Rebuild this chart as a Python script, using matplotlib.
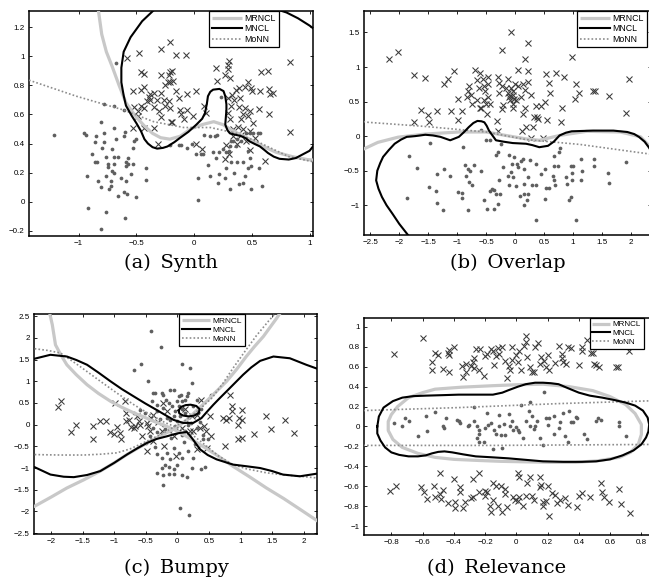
import numpy as np
import matplotlib
matplotlib.use("Agg")
import matplotlib.pyplot as plt

plt.rcParams['font.family'] = ['Liberation Sans', 'DejaVu Sans']

# ---------------- (a) Synth ----------------
synth_cross = [
    (-0.58, 0.99), (-0.48, 1.02), (-0.21, 1.10), (-0.29, 1.05), (-0.16, 1.01), (-0.07, 1.01),
    (-0.46, 0.89), (-0.43, 0.88), (-0.29, 0.87), (-0.21, 0.89), (-0.22, 0.87), (-0.19, 0.90),
    (-0.23, 0.82), (-0.21, 0.82), (-0.25, 0.80), (-0.18, 0.83), (-0.53, 0.76), (-0.43, 0.79),
    (-0.46, 0.77), (-0.38, 0.74), (-0.35, 0.75), (-0.29, 0.75), (-0.39, 0.72), (-0.38, 0.70),
    (-0.41, 0.69), (-0.46, 0.66), (-0.43, 0.645), (-0.52, 0.65), (-0.49, 0.62), (-0.35, 0.65),
    (-0.32, 0.70), (-0.26, 0.70), (-0.25, 0.66), (-0.21, 0.645), (-0.22, 0.69), (-0.13, 0.71),
    (-0.06, 0.74), (0.02, 0.76), (-0.29, 0.58), (-0.19, 0.55), (-0.11, 0.60), (-0.12, 0.63),
    (-0.06, 0.63), (-0.09, 0.565), (-0.53, 0.51), (-0.43, 0.51), (-0.35, 0.51), (-0.49, 0.59),
    (-0.01, 0.59), (0.10, 0.61), (0.09, 0.66), (0.30, 0.97), (0.29, 0.94), (0.29, 0.91),
    (0.19, 0.92), (0.31, 0.85), (0.27, 0.87), (0.58, 0.89), (0.64, 0.90), (0.83, 0.96),
    (0.47, 0.82), (0.39, 0.78), (0.44, 0.79), (0.49, 0.78), (0.36, 0.77), (0.33, 0.73),
    (0.35, 0.70), (0.50, 0.76), (0.57, 0.76), (0.65, 0.775), (0.66, 0.74), (0.68, 0.75),
    (0.29, 0.71), (0.32, 0.66), (0.39, 0.65), (0.44, 0.645), (0.48, 0.62), (0.56, 0.64),
    (0.65, 0.60), (0.42, 0.60), (0.47, 0.59), (0.31, 0.565), (0.41, 0.565), (0.51, 0.54),
    (0.34, 0.50), (0.38, 0.515), (0.42, 0.50), (0.48, 0.485), (0.41, 0.46), (0.29, 0.61),
    (0.83, 0.48), (0.28, 0.39), (0.48, 0.355), (0.34, 0.45), (0.02, 0.40), (0.07, 0.36),
    (-0.31, 0.40), (0.27, 0.295), (0.61, 0.28), (0.30, 0.33), (-0.20, 0.55), (0.53, 0.44),
    (0.45, 0.42), (0.37, 0.40), (-0.30, 0.62), (-0.16, 0.76), (0.20, 0.83), (0.40, 0.71),
]
synth_dot = [
    (-1.21, 0.46), (-0.95, 0.47), (-0.94, 0.46), (-0.85, 0.45), (-0.78, 0.47), (-0.69, 0.51),
    (-0.60, 0.48), (-0.81, 0.55), (-0.86, 0.41), (-0.78, 0.41), (-0.68, 0.43), (-0.61, 0.45),
    (-0.71, 0.36), (-0.80, 0.37), (-0.86, 0.27), (-0.84, 0.27), (-0.76, 0.31), (-0.69, 0.31),
    (-0.66, 0.31), (-0.57, 0.30), (-0.75, 0.26), (-0.75, 0.24), (-0.69, 0.26), (-0.59, 0.27),
    (-0.57, 0.26), (-0.53, 0.26), (-0.59, 0.245), (-0.93, 0.18), (-0.83, 0.14), (-0.76, 0.18),
    (-0.71, 0.21), (-0.69, 0.20), (-0.72, 0.14), (-0.63, 0.16), (-0.55, 0.19), (-0.59, 0.14),
    (-0.42, 0.15), (-0.42, 0.23), (-0.81, 0.10), (-0.74, 0.09), (-0.72, 0.11), (-0.66, 0.04),
    (-0.61, 0.07), (-0.58, 0.055), (-0.50, 0.035), (-0.92, -0.04), (-0.76, -0.07), (-0.60, -0.11),
    (-0.81, -0.19), (-0.88, 0.33), (-0.78, 0.67), (-0.69, 0.66), (-0.61, 0.63), (-0.68, 0.95),
    (-0.52, 0.42), (-0.50, 0.43), (-0.53, 0.37),
    (0.03, 0.165), (0.14, 0.18), (0.22, 0.19), (0.21, 0.13), (0.31, 0.09), (0.27, 0.165),
    (0.28, 0.23), (0.37, 0.27), (0.42, 0.27), (0.32, 0.27), (0.39, 0.12), (0.42, 0.13),
    (0.49, 0.085), (0.49, 0.245), (0.47, 0.23), (0.56, 0.23), (0.59, 0.11), (0.03, 0.015),
    (-0.06, 0.37), (-0.11, 0.39), (-0.13, 0.39), (-0.02, 0.40), (0.02, 0.325), (0.06, 0.325),
    (0.08, 0.325), (0.16, 0.345), (0.22, 0.34), (0.19, 0.30), (0.28, 0.34), (0.30, 0.35),
    (0.31, 0.38), (0.09, 0.46), (0.14, 0.45), (0.18, 0.455), (0.20, 0.46), (0.32, 0.42),
    (0.37, 0.43), (0.36, 0.38), (0.42, 0.45), (0.41, 0.42), (0.45, 0.47), (0.48, 0.47),
    (0.51, 0.47), (0.55, 0.47), (0.57, 0.47), (0.47, 0.35), (0.48, 0.30), (-0.21, 0.39),
    (0.23, 0.72), (0.34, 0.42), (0.25, 0.36), (0.12, 0.25), (0.35, 0.20), (0.44, 0.18),
]
synth_mrncl = [
    (-0.83, 1.32), (-0.80, 1.15), (-0.76, 1.03), (-0.71, 0.93), (-0.65, 0.80), (-0.59, 0.68),
    (-0.51, 0.59), (-0.43, 0.52), (-0.36, 0.47), (-0.29, 0.44), (-0.21, 0.43), (-0.12, 0.45),
    (-0.03, 0.50), (0.07, 0.53), (0.17, 0.55), (0.25, 0.53), (0.31, 0.50), (0.40, 0.46),
    (0.48, 0.43), (0.60, 0.38), (0.71, 0.34), (0.85, 0.31), (0.98, 0.29), (1.05, 0.285),
]
synth_mncl = [
    (-0.33, 1.33), (-0.45, 1.24), (-0.55, 1.13), (-0.61, 1.03), (-0.63, 0.92), (-0.63, 0.82),
    (-0.61, 0.73), (-0.59, 0.66), (-0.54, 0.59), (-0.50, 0.54), (-0.46, 0.485), (-0.43, 0.43),
    (-0.40, 0.40), (-0.36, 0.375), (-0.32, 0.365), (-0.27, 0.37), (-0.23, 0.38), (-0.17, 0.41),
    (-0.12, 0.44), (-0.05, 0.48), (0.02, 0.53), (0.07, 0.57), (0.095, 0.61), (0.11, 0.67),
    (0.12, 0.725), (0.14, 0.755), (0.165, 0.77), (0.22, 0.775), (0.255, 0.76), (0.27, 0.725),
    (0.28, 0.67), (0.28, 0.63), (0.275, 0.58), (0.27, 0.53), (0.29, 0.49), (0.31, 0.47),
    (0.36, 0.46), (0.41, 0.45), (0.45, 0.435), (0.48, 0.415), (0.53, 0.395), (0.57, 0.38),
    (0.61, 0.355), (0.64, 0.335), (0.69, 0.31), (0.74, 0.295), (0.82, 0.29), (0.88, 0.30),
    (0.94, 0.325), (1.0, 0.35), (1.1, 0.45), (1.2, 0.8), (1.1, 1.15), (1.0, 1.21),
    (0.90, 1.26), (0.80, 1.30), (0.68, 1.33),
]
synth_monn = [
    (-1.43, 0.835), (-1.02, 0.725), (-0.61, 0.63), (-0.35, 0.55), (-0.09, 0.51), (0.14, 0.51),
    (0.37, 0.47), (0.57, 0.405), (0.82, 0.31), (1.03, 0.275),
]

# ---------------- (b) Overlap ----------------
overlap_cross = [
    (-2.17, 1.12), (-2.02, 1.22), (-1.74, 0.89), (-1.56, 0.84), (-1.63, 0.38), (-1.51, 0.31),
    (-1.74, 0.20), (-1.48, 0.20), (-1.34, 0.36), (-1.22, 0.75), (-1.16, 0.83), (-1.06, 0.94),
    (-0.99, 0.53), (-1.10, 0.36), (-0.92, 0.37), (-0.99, 0.24), (-0.80, 0.73), (-0.81, 0.65),
    (-0.83, 0.57), (-0.76, 0.60), (-0.70, 0.95), (-0.61, 0.91), (-0.65, 0.81), (-0.56, 0.82),
    (-0.53, 0.73), (-0.52, 0.65), (-0.63, 0.69), (-0.75, 0.47), (-0.65, 0.52), (-0.59, 0.40),
    (-0.53, 0.52), (-0.47, 0.86), (-0.47, 0.76), (-0.47, 0.57), (-0.51, 0.47), (-0.44, 0.46),
    (-0.48, 0.32), (-0.30, 0.86), (-0.27, 0.77), (-0.22, 0.72), (-0.27, 0.62), (-0.22, 1.24),
    (-0.07, 1.51), (0.22, 1.35), (0.17, 1.11), (-0.12, 0.83), (-0.16, 0.70), (-0.13, 0.62),
    (-0.07, 0.69), (-0.04, 0.60), (-0.11, 0.57), (-0.08, 0.52), (-0.01, 0.54), (-0.04, 0.47),
    (0.02, 0.52), (0.0, 0.76), (0.06, 0.73), (0.13, 0.76), (0.22, 0.78), (0.06, 0.95),
    (0.23, 0.94), (-0.22, 0.39), (-0.04, 0.40), (-0.31, 0.22), (-0.30, 0.08), (0.17, 0.67),
    (0.18, 0.40), (0.13, 0.32), (0.28, 0.59), (0.37, 0.44), (0.45, 0.44), (0.51, 0.49),
    (0.54, 0.90), (0.70, 0.91), (0.84, 0.85), (0.59, 0.77), (0.60, 0.62), (0.40, 0.25),
    (0.32, 0.28), (0.31, 0.13), (0.12, 0.07), (0.19, 0.13), (0.28, -0.02), (0.48, -0.02),
    (0.56, 0.23), (0.80, 0.20), (0.81, 0.41), (0.98, 1.14), (1.05, 0.76), (1.03, 0.53),
    (1.11, 0.62), (1.34, 0.65), (1.38, 0.65), (1.63, 0.58), (1.97, 0.82), (1.92, 0.34),
    (0.10, 0.57), (-0.03, 0.66), (-0.09, 0.58), (0.38, 0.27), (-0.60, 0.40), (-0.20, 0.45),
]
overlap_dot = [
    (-1.83, -0.29), (-1.87, -0.89), (-1.70, -0.46), (-1.47, -0.10), (-1.48, -0.73), (-1.37, -0.79),
    (-1.34, -0.97), (-1.25, -1.07), (-1.35, -0.55), (-1.23, -0.47), (-1.13, -0.58), (-0.98, -0.81),
    (-0.92, -0.82), (-0.92, -0.89), (-0.81, -1.07), (-0.87, -0.42), (-0.81, -0.47), (-0.84, -0.57),
    (-0.80, -0.67), (-0.74, -0.71), (-0.71, -0.42), (-0.78, -0.51), (-0.58, -0.50), (-0.90, -0.15),
    (-0.58, 0.09), (-0.51, -0.06), (-0.44, -0.06), (-0.53, -0.93), (-0.49, -1.06), (-0.36, -1.06),
    (-0.44, -0.80), (-0.37, -0.78), (-0.33, -0.83), (-0.26, -0.83), (-0.30, -0.98), (-0.30, -0.23),
    (-0.33, -0.28), (-0.27, -0.63), (-0.20, -0.44), (-0.13, -0.58), (-0.07, -0.52), (-0.04, -0.59),
    (-0.05, -0.40), (-0.11, -0.28), (-0.02, -0.30), (0.03, -0.40), (0.06, -0.44), (0.10, -0.36),
    (0.13, -0.33), (0.16, -0.47), (0.02, -0.72), (0.15, -0.69), (0.22, -0.59), (0.26, -0.34),
    (0.37, -0.41), (0.08, -0.87), (0.16, -0.83), (0.20, -0.92), (0.22, -0.83), (0.29, -0.71),
    (0.16, -1.0), (0.37, -1.21), (0.36, -0.70), (0.51, -0.91), (0.53, -0.75), (0.59, -0.75),
    (0.51, -0.47), (0.66, -0.57), (0.67, -0.64), (0.69, -0.71), (0.67, -0.43), (0.74, -0.43),
    (0.67, -0.29), (0.76, -0.23), (0.77, -0.17), (0.88, -0.59), (0.90, -0.69), (0.96, -0.43),
    (1.0, -0.43), (0.99, -0.54), (0.97, -0.88), (1.05, -1.21), (0.93, -0.92), (1.14, -0.33),
    (1.15, -0.51), (0.98, -0.63), (1.14, -0.64), (1.37, -0.33), (1.37, -0.43), (1.60, -0.53),
    (1.63, -0.68), (1.92, -0.37), (-0.24, -0.11), (-0.40, -0.76), (-0.10, -0.70), (0.45, -0.55),
]
overlap_mrncl = [
    (-2.65, -0.20), (-2.60, -0.18), (-2.37, -0.09), (-2.02, -0.015), (-1.55, 0.03), (-0.97, 0.06),
    (-0.50, 0.06), (-0.16, 0.01), (0.19, -0.04), (0.42, -0.06), (0.77, 0.01), (1.24, 0.07),
    (1.82, 0.06), (2.17, -0.01), (2.34, -0.16), (2.40, -0.25),
]
overlap_mncl = [
    (-1.78, -1.50), (-1.85, -1.43), (-2.00, -1.27), (-2.12, -1.12), (-2.22, -1.00), (-2.30, -0.88),
    (-2.36, -0.76), (-2.40, -0.64), (-2.38, -0.50), (-2.33, -0.39), (-2.28, -0.30), (-2.18, -0.20),
    (-2.08, -0.11), (-1.97, -0.05), (-1.87, -0.01), (-1.73, 0.0), (-1.55, 0.02), (-1.42, 0.01),
    (-1.29, -0.01), (-1.12, -0.06), (-0.97, -0.01), (-0.88, 0.06), (-0.80, 0.13), (-0.72, 0.19),
    (-0.65, 0.22), (-0.58, 0.215), (-0.53, 0.20), (-0.49, 0.15), (-0.45, 0.08), (-0.39, 0.01),
    (-0.33, -0.06), (-0.20, -0.08), (-0.04, -0.10), (0.19, -0.11), (0.30, -0.13), (0.42, -0.16),
    (0.57, -0.14), (0.67, -0.08), (0.77, 0.01), (0.88, 0.05), (0.98, 0.07), (1.35, 0.08),
    (1.70, 0.08), (1.94, 0.06), (2.06, 0.03), (2.14, -0.01), (2.24, -0.08), (2.31, -0.16),
    (2.40, -0.28),
]
overlap_monn = [
    (-2.62, 0.21), (-2.54, 0.20), (-1.55, 0.14), (-0.50, 0.06), (0.19, -0.05), (1.12, -0.12),
    (2.34, -0.26),
]

# ---------------- (c) Bumpy ----------------
bumpy_cross = [
    (-1.85, 0.55), (-1.89, 0.40), (-1.60, 0.0), (-1.69, -0.17), (-1.33, -0.02), (-1.33, -0.33),
    (-1.22, 0.08), (-1.13, 0.08), (-1.06, -0.17), (-1.01, -0.21), (-0.99, 0.50), (-0.95, -0.06),
    (-0.91, -0.19), (-0.90, -0.32), (-0.83, 0.54), (-0.81, 0.27), (-0.81, 0.09), (-0.74, -0.06),
    (-0.67, -0.04), (-0.64, 0.19), (-0.60, 0.08), (-0.56, -0.27), (-0.48, 0.04), (-0.46, -0.04),
    (-0.43, -0.15), (-0.41, 0.15), (-0.38, 0.23), (-0.48, -0.61), (-0.39, -0.37), (-0.25, -0.15),
    (-0.21, -0.50), (-0.22, 0.50), (-0.17, 0.31), (-0.06, -0.27), (-0.02, -0.73), (0.03, -0.15),
    (0.08, -0.08), (0.20, -0.15), (0.23, 0.19), (0.31, 0.23), (0.25, -0.14), (0.36, -0.08),
    (0.38, 0.57), (0.51, 0.19), (0.31, -0.57), (0.42, -0.04), (0.46, -0.15), (0.53, -0.27),
    (0.47, -0.54), (0.84, 0.69), (0.86, 0.42), (0.86, 0.32), (0.72, 0.15), (0.77, 0.11),
    (0.75, -0.50), (0.96, 0.0), (0.98, 0.15), (1.02, 0.11), (1.02, 0.34), (0.96, -0.32),
    (1.02, -0.31), (1.21, -0.21), (1.41, 0.21), (1.48, -0.09), (1.70, 0.11), (1.84, -0.19),
    (0.81, 0.15), (-0.59, 0.0), (-0.76, 0.11), (-0.69, -0.08), (-0.30, 0.05), (0.12, 0.35),
]
bumpy_dot = [
    (-0.41, 2.16), (-0.26, 1.80), (-0.57, 1.40), (0.07, 1.39), (0.20, 1.30), (-0.69, 1.26),
    (-0.46, 1.0), (0.23, 0.96), (-0.38, 0.74), (-0.35, 0.74), (-0.24, 0.74), (-0.12, 0.80),
    (-0.06, 0.80), (-0.22, 0.69), (-0.18, 0.57), (-0.14, 0.50), (-0.09, 0.42), (-0.33, 0.46),
    (-0.32, 0.32), (-0.22, 0.38), (-0.04, 0.31), (0.06, 0.69), (0.12, 0.57), (0.15, 0.65),
    (0.17, 0.73), (0.07, 0.54), (0.03, 0.42), (0.08, 0.37), (0.12, 0.27), (-0.69, 0.27),
    (-0.59, 0.34), (-0.51, 0.27), (-0.17, 0.15), (-0.12, 0.11), (-0.06, 0.19), (-0.01, 0.08),
    (0.04, 0.19), (0.14, 0.08), (0.17, 0.0), (0.22, 0.04), (0.31, 0.57), (0.53, 0.69),
    (0.38, 0.35), (-0.23, 0.0), (-0.19, -0.09), (-0.12, -0.15), (-0.04, -0.04), (0.07, -0.23),
    (0.12, -0.15), (0.31, -0.08), (0.36, 0.06), (0.40, -0.23), (0.41, -0.32), (0.49, -0.32),
    (-0.49, -0.42), (-0.35, -0.52), (-0.32, -0.67), (-0.25, -0.77), (-0.17, -0.65), (-0.12, -0.80),
    (-0.06, -0.54), (0.03, -0.65), (0.08, -0.77), (0.17, -0.61), (0.25, -0.77), (0.23, -1.0),
    (0.37, -1.03), (0.44, -0.97), (-0.24, -1.0), (-0.14, -0.98), (-0.06, -1.03), (-0.20, -0.92),
    (-0.32, -1.11), (-0.22, -1.15), (-0.14, -1.13), (-0.05, -1.13), (-0.22, -1.38), (0.15, -1.20),
    (0.04, -1.93), (0.19, -2.09), (0.07, -1.15), (0.0, -0.92), (-0.44, -0.27), (-0.33, -0.17),
    (-0.38, -0.08), (-0.01, 0.54), (0.03, 0.65), (0.25, 0.42), (0.33, 0.27), (-0.28, 0.12),
    (0.10, -0.40), (-0.10, -0.30), (0.28, -0.45), (-0.40, 0.55),
]
bumpy_mrncl_a = [
    (-2.02, 2.56), (-1.98, 2.30), (-1.93, 1.84), (-1.85, 1.62), (-1.75, 1.38), (-1.60, 1.15),
    (-1.43, 0.92), (-1.25, 0.72), (-1.06, 0.54), (-0.88, 0.40), (-0.69, 0.27), (-0.52, 0.17),
    (-0.38, 0.08), (-0.20, -0.02), (0.0, -0.15), (0.18, -0.30), (0.36, -0.46), (0.62, -0.70),
    (0.88, -0.96), (1.15, -1.21), (1.41, -1.46), (1.68, -1.70), (1.94, -1.95), (2.25, -2.25),
]
bumpy_mrncl_b = [
    (-2.30, -1.90), (-2.26, -1.88), (-2.00, -1.67), (-1.75, -1.46), (-1.48, -1.27), (-1.22, -1.07),
    (-1.00, -0.88), (-0.80, -0.69), (-0.60, -0.52), (-0.43, -0.38), (-0.27, -0.26), (-0.12, -0.15),
    (0.02, -0.03), (0.15, 0.11), (0.30, 0.32), (0.46, 0.54), (0.62, 0.77), (0.78, 1.0),
    (0.94, 1.28), (1.09, 1.57), (1.22, 1.80), (1.36, 2.03), (1.47, 2.25), (1.57, 2.45),
    (1.63, 2.58),
]
bumpy_mncl_upper = [
    (-2.30, 1.50), (-2.26, 1.52), (-2.01, 1.61), (-1.75, 1.57), (-1.60, 1.49), (-1.43, 1.38),
    (-1.25, 1.20), (-1.06, 1.0), (-0.88, 0.82), (-0.69, 0.65), (-0.51, 0.49), (-0.33, 0.34),
    (-0.19, 0.22), (-0.06, 0.11), (0.09, 0.04), (0.25, 0.04), (0.38, 0.15), (0.47, 0.30),
    (0.57, 0.46), (0.67, 0.61), (0.78, 0.77), (0.91, 0.96), (1.04, 1.15), (1.17, 1.32),
    (1.31, 1.47), (1.52, 1.57), (1.78, 1.53), (2.04, 1.38), (2.25, 1.27),
]
bumpy_mncl_lower = [
    (-2.30, -0.96), (-2.26, -0.98), (-2.01, -1.15), (-1.80, -1.20), (-1.64, -1.21), (-1.43, -1.16),
    (-1.22, -1.07), (-1.00, -0.88), (-0.80, -0.69), (-0.64, -0.55), (-0.48, -0.42), (-0.33, -0.33),
    (-0.17, -0.27), (-0.05, -0.22), (0.04, -0.19), (0.15, -0.17), (0.23, -0.31), (0.36, -0.57),
    (0.48, -0.70), (0.62, -0.80), (0.88, -0.92), (1.10, -0.96), (1.31, -1.00), (1.50, -1.07),
    (1.67, -1.15), (1.94, -1.19), (2.25, -1.12),
]
bumpy_mncl_loop = [
    (0.02, 0.33), (0.06, 0.41), (0.13, 0.45), (0.21, 0.46), (0.30, 0.43), (0.35, 0.36),
    (0.34, 0.27), (0.27, 0.21), (0.18, 0.19), (0.09, 0.21), (0.03, 0.26), (0.02, 0.33),
]
bumpy_monn_a = [
    (-2.26, 1.75), (-2.05, 1.71), (-1.85, 1.65), (-1.55, 1.35), (-1.22, 1.0), (-0.95, 0.72),
    (-0.69, 0.46), (-0.45, 0.25), (-0.20, 0.05), (0.05, -0.10), (0.25, -0.25), (0.45, -0.48),
    (0.65, -0.72), (0.88, -0.92), (1.10, -1.02), (1.41, -1.11), (1.70, -1.16), (1.94, -1.19),
    (2.22, -1.23),
]
bumpy_monn_b = [
    (-2.26, -0.69), (-1.85, -0.70), (-1.48, -0.70), (-1.20, -0.68), (-0.96, -0.65), (-0.75, -0.56),
    (-0.54, -0.42), (-0.27, -0.23), (-0.05, -0.05), (0.15, 0.12), (0.35, 0.35), (0.55, 0.62),
    (0.72, 0.95), (0.88, 1.30), (1.05, 1.65), (1.25, 2.05), (1.45, 2.40), (1.55, 2.56),
]

# ---------------- (d) Relevance ----------------
relev_cross = [
    (-0.78, 0.73), (-0.60, 0.89), (-0.54, 0.57), (-0.54, 0.65), (-0.52, 0.74), (-0.50, 0.72),
    (-0.47, 0.58), (-0.44, 0.74), (-0.43, 0.77), (-0.43, 0.72), (-0.43, 0.55), (-0.40, 0.80),
    (-0.35, 0.61), (-0.34, 0.50), (-0.32, 0.63), (-0.32, 0.55), (-0.29, 0.61), (-0.28, 0.65),
    (-0.27, 0.69), (-0.27, 0.59), (-0.24, 0.57), (-0.21, 0.51), (-0.26, 0.78), (-0.23, 0.78),
    (-0.20, 0.71), (-0.19, 0.73), (-0.16, 0.78), (-0.15, 0.76), (-0.14, 0.62), (-0.13, 0.71),
    (-0.12, 0.79), (-0.11, 0.73), (-0.09, 0.80), (-0.07, 0.66), (-0.06, 0.49), (-0.05, 0.61),
    (-0.04, 0.57), (-0.03, 0.80), (-0.03, 0.67), (0.0, 0.72), (0.01, 0.65), (0.02, 0.76),
    (0.03, 0.57), (0.05, 0.81), (0.06, 0.91), (0.06, 0.85), (0.07, 0.70), (0.09, 0.60),
    (0.10, 0.55), (0.11, 0.55), (0.12, 0.80), (0.14, 0.84), (0.15, 0.63), (0.16, 0.70),
    (0.18, 0.66), (0.19, 0.60), (0.20, 0.72), (0.21, 0.57), (0.25, 0.64), (0.27, 0.81),
    (0.29, 0.73), (0.29, 0.69), (0.30, 0.65), (0.32, 0.63), (0.33, 0.80), (0.35, 0.79),
    (0.40, 0.62), (0.42, 0.80), (0.42, 0.76), (0.45, 0.87), (0.48, 0.74), (0.49, 0.74),
    (0.50, 0.63), (0.51, 0.62), (0.53, 0.60), (0.64, 0.60), (0.65, 0.60), (0.72, 0.76),
    (-0.81, -0.645), (-0.77, -0.60), (-0.61, -0.61), (-0.59, -0.66), (-0.57, -0.73), (-0.53, -0.60),
    (-0.52, -0.71), (-0.49, -0.68), (-0.49, -0.47), (-0.48, -0.73), (-0.47, -0.64), (-0.44, -0.77),
    (-0.40, -0.53), (-0.39, -0.82), (-0.39, -0.76), (-0.36, -0.61), (-0.36, -0.66), (-0.34, -0.82),
    (-0.33, -0.76), (-0.28, -0.53), (-0.28, -0.71), (-0.29, -0.72), (-0.24, -0.47), (-0.24, -0.66),
    (-0.20, -0.645), (-0.20, -0.70), (-0.19, -0.66), (-0.17, -0.80), (-0.16, -0.86), (-0.15, -0.74),
    (-0.15, -0.57), (-0.13, -0.60), (-0.12, -0.80), (-0.10, -0.60), (-0.07, -0.68), (-0.07, -0.63),
    (-0.09, -0.86), (-0.06, -0.81), (-0.02, -0.71), (-0.01, -0.74), (0.01, -0.75), (0.01, -0.47),
    (0.02, -0.505), (0.02, -0.71), (0.04, -0.80), (0.06, -0.70), (0.07, -0.57), (0.09, -0.51),
    (0.10, -0.70), (0.11, -0.74), (0.15, -0.51), (0.15, -0.61), (0.16, -0.59), (0.17, -0.76),
    (0.17, -0.80), (0.19, -0.75), (0.20, -0.60), (0.21, -0.90), (0.23, -0.67), (0.25, -0.685),
    (0.26, -0.77), (0.28, -0.74), (0.31, -0.72), (0.33, -0.79), (0.39, -0.81), (0.40, -0.70),
    (0.42, -0.67), (0.47, -0.71), (0.54, -0.57), (0.55, -0.66), (0.56, -0.71), (0.59, -0.76),
    (0.66, -0.63), (0.67, -0.78), (0.73, -0.87),
]
relev_dot = [
    (-0.78, 0.04), (-0.73, 0.0), (-0.71, 0.09), (-0.69, 0.06), (-0.63, -0.10), (-0.58, 0.11),
    (-0.57, -0.05), (-0.52, 0.15), (-0.47, 0.0), (-0.46, -0.02), (-0.45, 0.09), (-0.38, 0.07),
    (-0.37, 0.06), (-0.36, 0.04), (-0.31, 0.0), (-0.30, 0.02), (-0.27, 0.20), (-0.27, 0.06),
    (-0.25, 0.0), (-0.24, -0.04), (-0.24, -0.08), (-0.25, -0.12), (-0.24, -0.16), (-0.21, -0.16),
    (-0.20, -0.02), (-0.19, 0.14), (-0.18, 0.02), (-0.16, 0.04), (-0.15, -0.23), (-0.14, -0.04),
    (-0.13, -0.08), (-0.11, 0.12), (-0.11, 0.01), (-0.10, -0.09), (-0.09, -0.22), (-0.08, 0.03),
    (-0.07, -0.09), (-0.05, 0.13), (-0.04, 0.0), (-0.03, 0.06), (-0.02, -0.04), (0.0, -0.01),
    (0.01, -0.04), (0.02, -0.06), (0.03, 0.22), (0.04, -0.12), (0.06, 0.06), (0.08, 0.16),
    (0.09, 0.25), (0.09, 0.01), (0.10, 0.11), (0.11, -0.03), (0.12, 0.01), (0.13, 0.06),
    (0.15, -0.12), (0.17, -0.19), (0.18, 0.35), (0.19, 0.09), (0.20, 0.02), (0.21, 0.09),
    (0.24, 0.11), (0.24, -0.08), (0.27, -0.02), (0.28, 0.05), (0.30, 0.14), (0.31, -0.10),
    (0.33, -0.16), (0.34, 0.16), (0.35, 0.05), (0.36, 0.05), (0.38, 0.10), (0.43, -0.08),
    (0.45, -0.13), (0.51, 0.06), (0.52, 0.09), (0.54, 0.07), (0.66, 0.05), (0.66, 0.0),
    (0.70, -0.10), (0.39, 0.09),
]
relev_mrncl = [
    (-0.69, 0.29), (-0.60, 0.34), (-0.52, 0.375), (-0.35, 0.395), (-0.15, 0.41), (0.01, 0.42),
    (0.17, 0.425), (0.34, 0.40), (0.49, 0.36), (0.60, 0.30), (0.70, 0.22), (0.76, 0.13),
    (0.80, 0.02), (0.80, -0.08), (0.78, -0.18), (0.73, -0.26), (0.66, -0.31), (0.52, -0.345),
    (0.38, -0.36), (0.22, -0.36), (0.06, -0.355), (-0.10, -0.35), (-0.26, -0.34), (-0.40, -0.33),
    (-0.52, -0.31), (-0.63, -0.27), (-0.73, -0.21), (-0.79, -0.13), (-0.82, -0.04), (-0.82, 0.05),
    (-0.80, 0.12), (-0.76, 0.20), (-0.69, 0.29),
]
relev_mncl = [
    (-0.89, 0.0), (-0.88, 0.10), (-0.85, 0.19), (-0.79, 0.255), (-0.73, 0.29), (-0.66, 0.305),
    (-0.58, 0.31), (-0.47, 0.315), (-0.37, 0.32), (-0.26, 0.32), (-0.15, 0.32), (-0.09, 0.34),
    (-0.05, 0.365), (0.01, 0.40), (0.06, 0.425), (0.12, 0.44), (0.17, 0.44), (0.22, 0.435),
    (0.27, 0.425), (0.33, 0.385), (0.40, 0.34), (0.47, 0.31), (0.55, 0.29), (0.63, 0.265),
    (0.70, 0.24), (0.76, 0.21), (0.81, 0.16), (0.84, 0.09), (0.85, 0.02), (0.845, -0.05),
    (0.83, -0.11), (0.80, -0.18), (0.75, -0.24), (0.68, -0.29), (0.60, -0.33), (0.51, -0.35),
    (0.42, -0.355), (0.30, -0.355), (0.17, -0.35), (0.06, -0.335), (-0.05, -0.32), (-0.15, -0.31),
    (-0.26, -0.30), (-0.34, -0.28), (-0.41, -0.26), (-0.46, -0.25), (-0.50, -0.255), (-0.54, -0.27),
    (-0.58, -0.29), (-0.63, -0.30), (-0.69, -0.30), (-0.75, -0.285), (-0.80, -0.26), (-0.84, -0.21),
    (-0.87, -0.14), (-0.89, -0.07), (-0.89, 0.0),
]
relev_monn_upper = [(-0.98, 0.16), (-0.37, 0.19), (0.27, 0.23), (0.90, 0.26)]
relev_monn_lower = [(-0.98, -0.19), (-0.15, -0.19), (0.90, -0.18)]

# ---------------- drawing ----------------
GRAY_LIGHT = '#c8c8c8'
GRAY_DOT = '#8c8c8c'
CROSS_COL = '#3a3a3a'
DOT_COL = '#5f5f5f'


def xy(pts):
    a = np.array(pts, dtype=float)
    return a[:, 0], a[:, 1]


def draw_panel(ax, crosses, dots, mrncl, mncl, monn, xlim, ylim, xticks, yticks):
    x, y = xy(crosses)
    ax.plot(x, y, 'x', color=CROSS_COL, ms=4.6, mew=0.75, zorder=3)
    x, y = xy(dots)
    ax.plot(x, y, 'o', color=DOT_COL, ms=2.7, mew=0, zorder=3)
    h = []
    for i, c in enumerate(mrncl):
        l, = ax.plot(*xy(c), color=GRAY_LIGHT, lw=2.3, solid_capstyle='butt', zorder=4)
        if i == 0:
            l.set_label('MRNCL')
            h.append(l)
    for i, c in enumerate(mncl):
        l, = ax.plot(*xy(c), color='black', lw=1.5, zorder=5)
        if i == 0:
            l.set_label('MNCL')
            h.append(l)
    for i, c in enumerate(monn):
        l, = ax.plot(*xy(c), color=GRAY_DOT, lw=1.2, ls=(0, (1, 1.3)), zorder=4)
        if i == 0:
            l.set_label('MoNN')
            h.append(l)
    ax.set_xlim(*xlim)
    ax.set_ylim(*ylim)
    ax.set_xticks(xticks)
    ax.set_yticks(yticks)
    ax.set_xticklabels([('%g' % t).replace('-', '\u2212') for t in xticks])
    ax.set_yticklabels([('%g' % t).replace('-', '\u2212') for t in yticks])
    ax.tick_params(direction='in', length=2.5, width=0.6, labelsize=5.8,
                   top=True, right=True, pad=3)
    for s in ax.spines.values():
        s.set_linewidth(1.1)
    return h


fig = plt.figure(figsize=(6.49, 5.82), dpi=100)

ax_a = fig.add_axes([29 / 649, 1 - 236 / 582, 284 / 649, 225 / 582])
ax_b = fig.add_axes([364 / 649, 1 - 235 / 582, 287 / 649, 224 / 582])
ax_c = fig.add_axes([34 / 649, 1 - 534 / 582, 283 / 649, 220 / 582])
ax_d = fig.add_axes([364 / 649, 1 - 535 / 582, 293 / 649, 217 / 582])

ha = draw_panel(ax_a, synth_cross, synth_dot, [synth_mrncl], [synth_mncl], [synth_monn],
                (-1.43, 1.03), (-0.235, 1.31),
                [-1, -0.5, 0, 0.5, 1], [-0.2, 0, 0.2, 0.4, 0.6, 0.8, 1, 1.2])
hb = draw_panel(ax_b, overlap_cross, overlap_dot, [overlap_mrncl], [overlap_mncl], [overlap_monn],
                (-2.61, 2.35), (-1.43, 1.81),
                [-2.5, -2, -1.5, -1, -0.5, 0, 0.5, 1, 1.5, 2], [-1, -0.5, 0, 0.5, 1, 1.5])
hc = draw_panel(ax_c, bumpy_cross, bumpy_dot, [bumpy_mrncl_a, bumpy_mrncl_b],
                [bumpy_mncl_upper, bumpy_mncl_lower, bumpy_mncl_loop],
                [bumpy_monn_a, bumpy_monn_b],
                (-2.27, 2.21), (-2.52, 2.55),
                [-2, -1.5, -1, -0.5, 0, 0.5, 1, 1.5, 2],
                [-2.5, -2, -1.5, -1, -0.5, 0, 0.5, 1, 1.5, 2, 2.5])
hd = draw_panel(ax_d, relev_cross, relev_dot, [relev_mrncl], [relev_mncl],
                [relev_monn_upper, relev_monn_lower],
                (-0.975, 0.90), (-1.09, 1.09),
                [-0.8, -0.6, -0.4, -0.2, 0, 0.2, 0.4, 0.6, 0.8],
                [-1, -0.8, -0.6, -0.4, -0.2, 0, 0.2, 0.4, 0.6, 0.8, 1])

leg_kw = dict(handletextpad=0.3, borderpad=0.35, labelspacing=0.15, fancybox=False,
              framealpha=1, edgecolor='black', borderaxespad=0)
for ax, h, anchor, loc, fs, hl in [(ax_a, ha, (0.88, 1.0), 'upper right', 6.3, 3.4),
                                   (ax_b, hb, (0.985, 1.0), 'upper right', 6.3, 3.4),
                                   (ax_c, hc, (0.745, 1.0), 'upper right', 6.0, 3.4),
                                   (ax_d, hd, (0.77, 1.0), 'upper left', 5.8, 2.2)]:
    lg = ax.legend(handles=h, loc=loc, bbox_to_anchor=anchor, fontsize=fs,
                   handlelength=hl, **leg_kw)
    lg.get_frame().set_linewidth(0.9)
    lg.set_zorder(10)

cap_kw = dict(ha='center', va='center', fontsize=14, family='DejaVu Serif')
fig.text(171 / 649, 1 - 263 / 582, '(a)\u2002Synth', **cap_kw)
fig.text(508 / 649, 1 - 263 / 582, '(b)\u2002Overlap', **cap_kw)
fig.text(176 / 649, 1 - 568 / 582, '(c)\u2002Bumpy', **cap_kw)
fig.text(497 / 649, 1 - 568 / 582, '(d)\u2002Relevance', **cap_kw)

fig.savefig('out.png', dpi=100)
